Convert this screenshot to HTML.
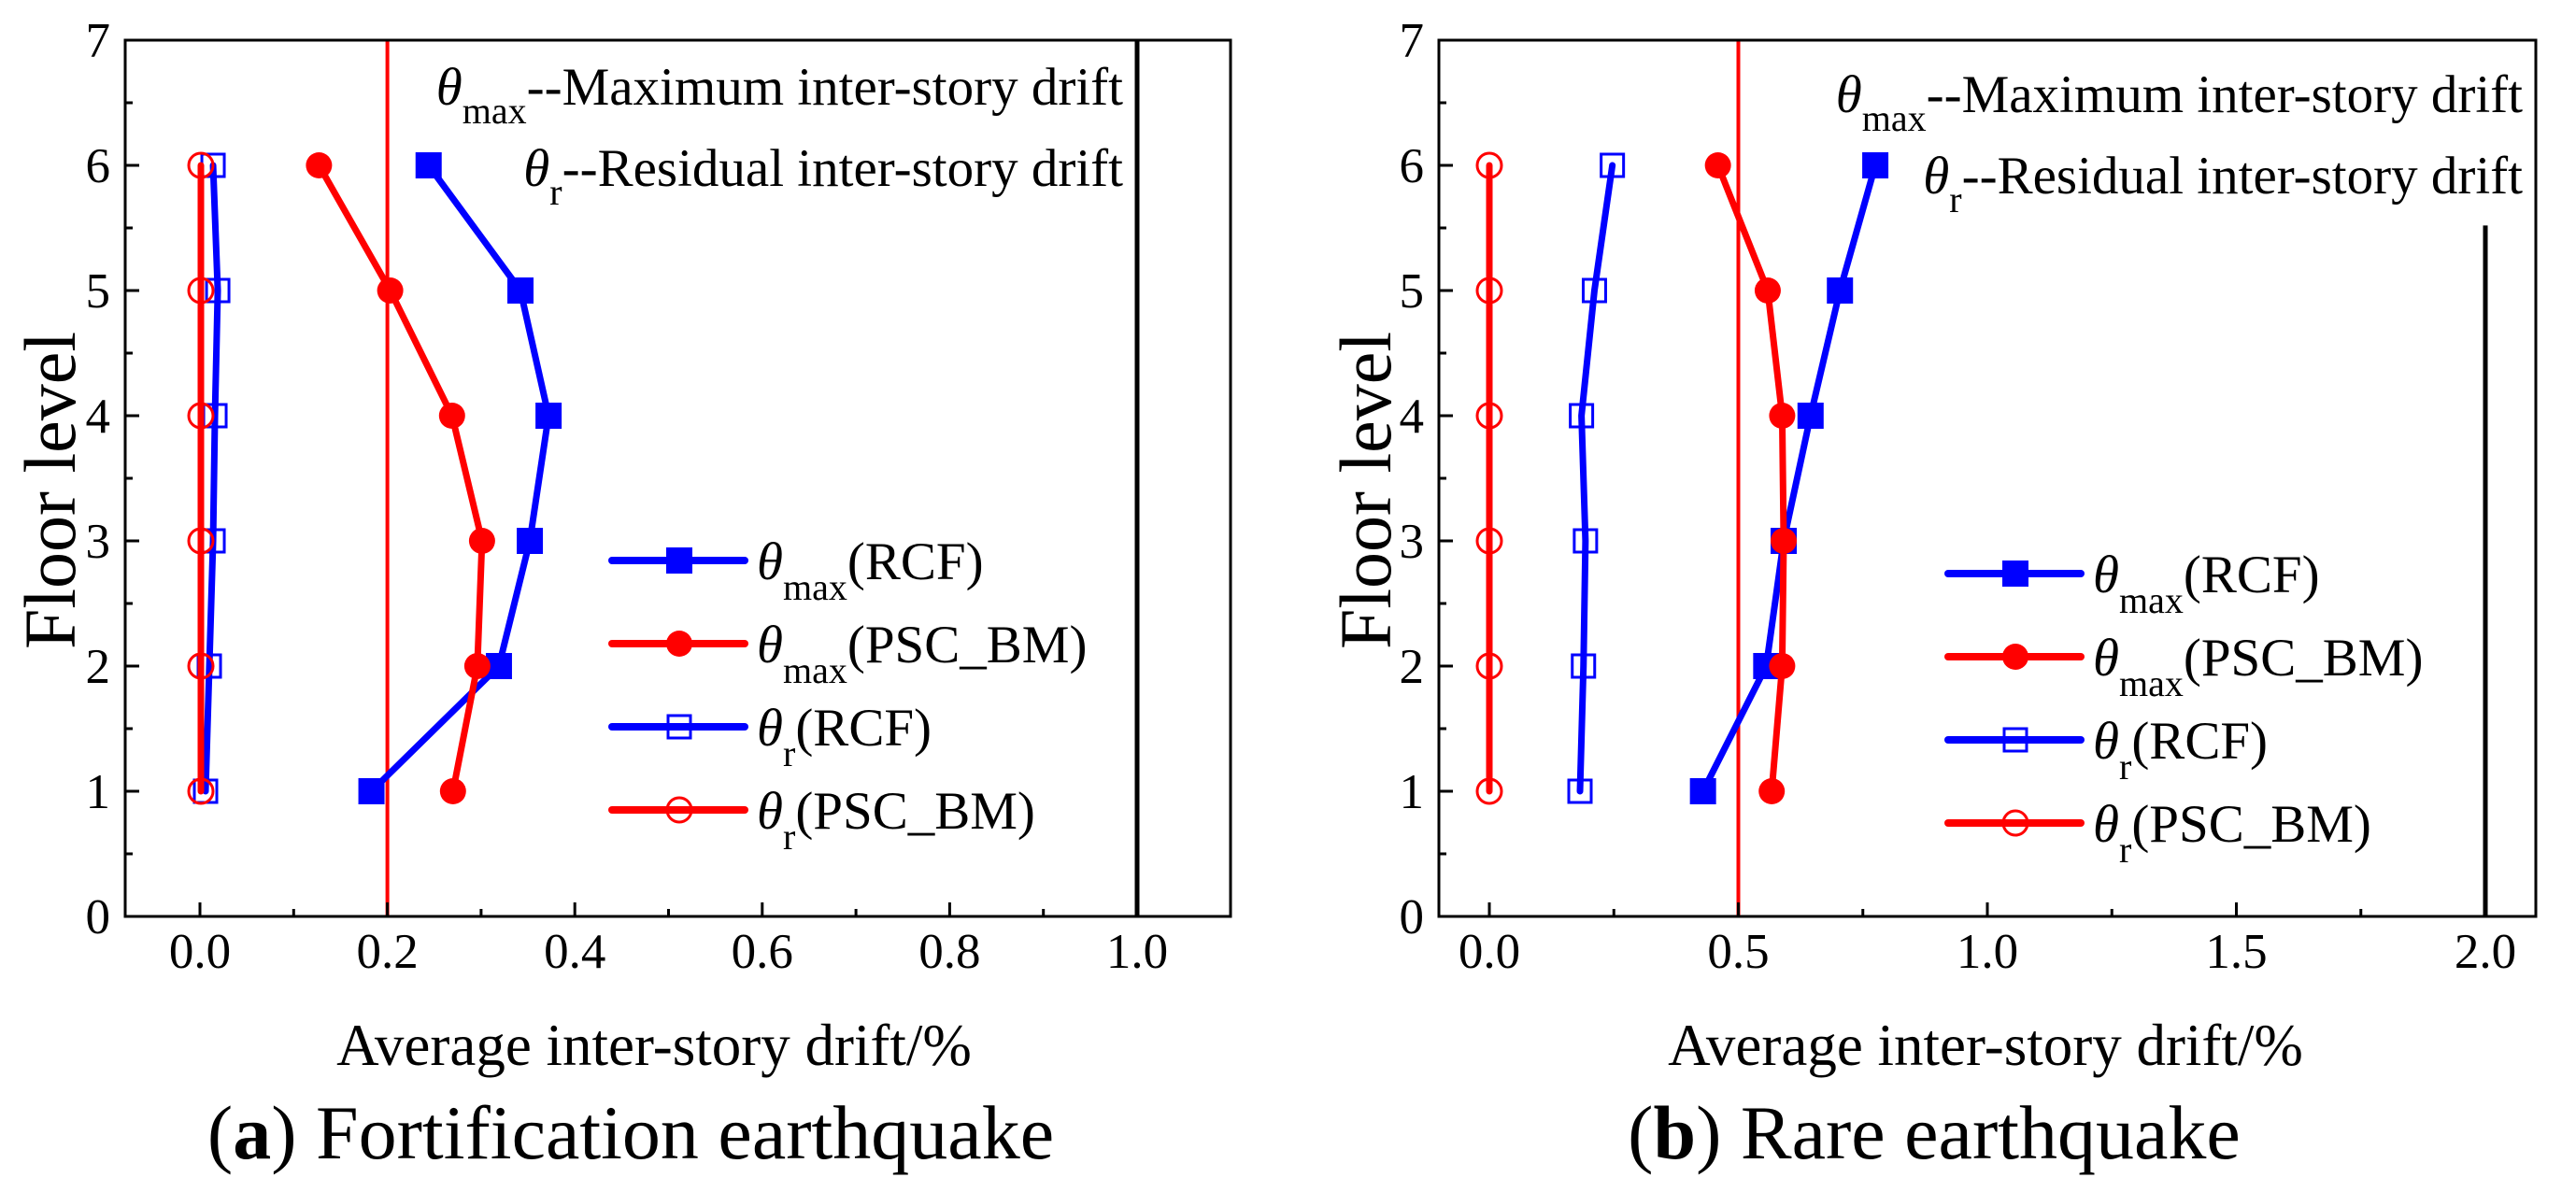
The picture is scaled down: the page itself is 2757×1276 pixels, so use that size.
<!DOCTYPE html>
<html><head><meta charset="utf-8"><style>
html,body{margin:0;padding:0;background:#fff;}
svg{display:block;font-family:"Liberation Serif","Times New Roman",serif;}
</style></head><body>
<svg id="chart" width="2757" height="1276" viewBox="0 0 2757 1276" xmlns="http://www.w3.org/2000/svg"></svg>
<script>
// ---- data ----
const floors = [1, 2, 3, 4, 5, 6];
const aMaxRCF = [0.183, 0.319, 0.352, 0.372, 0.342, 0.244];
const aMaxPSC = [0.270, 0.296, 0.301, 0.269, 0.203, 0.127];
const aResRCF = [0.006, 0.010, 0.014, 0.016, 0.019, 0.014];
const aResPSC = [0.001, 0.001, 0.001, 0.001, 0.001, 0.001];
const bMaxRCF = [0.429, 0.556, 0.591, 0.645, 0.704, 0.775];
const bMaxPSC = [0.567, 0.588, 0.591, 0.588, 0.559, 0.459];
const bResRCF = [0.182, 0.189, 0.193, 0.185, 0.211, 0.247];
const bResPSC = [0.0, 0.0, 0.0, 0.0, 0.0, 0.0];
const aXTicks = [0.0, 0.2, 0.4, 0.6, 0.8, 1.0];
const bXTicks = [0.0, 0.5, 1.0, 1.5, 2.0];
const yTicks = [0, 1, 2, 3, 4, 5, 6, 7];
const aLimit = 0.2, aCollapse = 1.0;
const bLimit = 0.5, bCollapse = 2.0, bCollapseTop = 5.52;

const NS = "http://www.w3.org/2000/svg";
const svg = document.getElementById('chart');
function mk(tag, attrs, parent) {
  const e = document.createElementNS(NS, tag);
  for (const k in attrs) e.setAttribute(k, attrs[k]);
  (parent || svg).appendChild(e);
  return e;
}

function panel(cfg) {
  const g = mk('g', {});
  
  
  const L = cfg.L, R = cfg.R, T = 43, B = 981;
  const sx = v => cfg.x0 + (v * cfg.pxPerUnit);
  const sy = v => B - (v - 0) * (B - T) / 7;

  const lim = mk('line', {x1: sx(cfg.limit), x2: sx(cfg.limit), y1: T, y2: B, stroke: '#ff0000', 'stroke-width': 4}, g);
  
  
  const col = mk('line', {x1: sx(cfg.collapse), x2: sx(cfg.collapse), y1: sy(cfg.collapseTop), y2: B, stroke: '#000', 'stroke-width': 5}, g);
  
  

  const fr = mk('rect', {x: L, y: T, width: R - L, height: B - T, fill: 'none', stroke: '#000', 'stroke-width': 3}, g);
  
  

  yTicks.forEach((v, i) => {
    mk('line', {x1: L, x2: L + 15, y1: sy(v), y2: sy(v), stroke: '#000', 'stroke-width': 3}, g);
    if (i < yTicks.length - 1) mk('line', {x1: L, x2: L + 8, y1: sy(v + 0.5), y2: sy(v + 0.5), stroke: '#000', 'stroke-width': 3}, g);
    const t = mk('text', {x: L - 16, y: sy(v) + 18, 'font-size': 53, 'text-anchor': 'end'}, g);
    t.textContent = String(v);
    
    
  });
  const step = cfg.xticks[1] - cfg.xticks[0];
  cfg.xticks.forEach(v => {
    mk('line', {x1: sx(v), x2: sx(v), y1: B, y2: B - 15, stroke: '#000', 'stroke-width': 3}, g);
    if (sx(v + step / 2) < R) mk('line', {x1: sx(v + step / 2), x2: sx(v + step / 2), y1: B, y2: B - 8, stroke: '#000', 'stroke-width': 3}, g);
    const t = mk('text', {x: sx(v), y: B + 55, 'font-size': 53, 'text-anchor': 'middle'}, g);
    t.textContent = v.toFixed(1);
    
    
  });

  const series = [
    {name: 'series-max-rcf', vals: cfg.maxRCF, color: '#0000ff', m: 'fsq'},
    {name: 'series-max-psc', vals: cfg.maxPSC, color: '#ff0000', m: 'fci'},
    {name: 'series-res-rcf', vals: cfg.resRCF, color: '#0000ff', m: 'osq'},
    {name: 'series-res-psc', vals: cfg.resPSC, color: '#ff0000', m: 'oci'}
  ];
  function marker(m, x, y, color, parent) {
    let e;
    if (m === 'fsq') e = mk('rect', {x: x - 14, y: y - 14, width: 28, height: 28, fill: color}, parent);
    else if (m === 'fci') e = mk('circle', {cx: x, cy: y, r: 14, fill: color}, parent);
    else if (m === 'osq') e = mk('rect', {x: x - 12, y: y - 12, width: 24, height: 24, fill: 'none', stroke: color, 'stroke-width': 3}, parent);
    else e = mk('circle', {cx: x, cy: y, r: 13, fill: 'none', stroke: color, 'stroke-width': 3}, parent);
    return e;
  }
  series.forEach(s => {
    const sg = mk('g', {}, g);
    
    
    const pts = s.vals.map((v, i) => sx(v) + ',' + sy(floors[i])).join(' ');
    mk('polyline', {points: pts, fill: 'none', stroke: s.color, 'stroke-width': 7, 'stroke-linejoin': 'round', 'stroke-linecap': 'round'}, sg);
    s.vals.forEach((v, i) => {
      const mEl = marker(s.m, sx(v), sy(floors[i]), s.color, sg);
      
      
    });
  });

  const lg = mk('g', {}, g);
  
  
  const labels = [['max', '(RCF)'], ['max', '(PSC_BM)'], ['r', '(RCF)'], ['r', '(PSC_BM)']];
  series.forEach((s, i) => {
    const y = cfg.legY + i * 89;
    const eg = mk('g', {}, lg);
    
    
    mk('line', {x1: cfg.legX, x2: cfg.legX + 142, y1: y, y2: y, stroke: s.color, 'stroke-width': 8, 'stroke-linecap': 'round'}, eg);
    marker(s.m, cfg.legX + 72, y, s.color, eg);
    const t = mk('text', {x: cfg.legX + 155, y: y + 20, 'font-size': 57}, eg);
    t.innerHTML = '<tspan font-style="italic">θ</tspan><tspan font-size="40" dy="22">' + labels[i][0] + '</tspan><tspan dy="-22">' + labels[i][1] + '</tspan>';
  });

  const a1 = mk('text', {x: cfg.annX, y: cfg.annY, 'font-size': 57, 'text-anchor': 'end'}, g);
  a1.innerHTML = '<tspan font-style="italic">θ</tspan><tspan font-size="40" dy="20">max</tspan><tspan dy="-20">--Maximum inter-story drift</tspan>';
  
  
  const a2 = mk('text', {x: cfg.annX, y: cfg.annY + 87, 'font-size': 57, 'text-anchor': 'end'}, g);
  a2.innerHTML = '<tspan font-style="italic">θ</tspan><tspan font-size="40" dy="20">r</tspan><tspan dy="-20">--Residual inter-story drift</tspan>';
  
  

  const yt = mk('text', {x: 0, y: 0, 'font-size': 78, 'text-anchor': 'middle', transform: 'translate(' + cfg.yTitleX + ',525) rotate(-90)'}, g);
  yt.textContent = 'Floor level';
  
  
  const xt = mk('text', {x: cfg.xTitleX, y: 1140, 'font-size': 63, 'text-anchor': 'middle'}, g);
  xt.textContent = 'Average inter-story drift/%';
  
  
  const cap = mk('text', {x: cfg.capX, y: 1240, 'font-size': 82, 'text-anchor': 'middle'}, g);
  cap.innerHTML = '(<tspan font-weight="bold">' + cfg.letter + '</tspan>) ' + cfg.caption;
  
  
}

panel({id: 'fortification', L: 134, R: 1317, x0: 214, pxPerUnit: 1003,
  xticks: aXTicks, limit: aLimit, collapse: aCollapse, collapseTop: 7,
  maxRCF: aMaxRCF, maxPSC: aMaxPSC, resRCF: aResRCF, resPSC: aResPSC,
  legX: 655, legY: 600, annX: 1202, annY: 112, yTitleX: 80, xTitleX: 700, capX: 675,
  letter: 'a', caption: 'Fortification earthquake'});
panel({id: 'rare', L: 1540, R: 2714, x0: 1594, pxPerUnit: 533,
  xticks: bXTicks, limit: bLimit, collapse: bCollapse, collapseTop: bCollapseTop,
  maxRCF: bMaxRCF, maxPSC: bMaxPSC, resRCF: bResRCF, resPSC: bResPSC,
  legX: 2085, legY: 614, annX: 2700, annY: 120, yTitleX: 1488, xTitleX: 2125, capX: 2070,
  letter: 'b', caption: 'Rare earthquake'});
</script>
</body></html>
